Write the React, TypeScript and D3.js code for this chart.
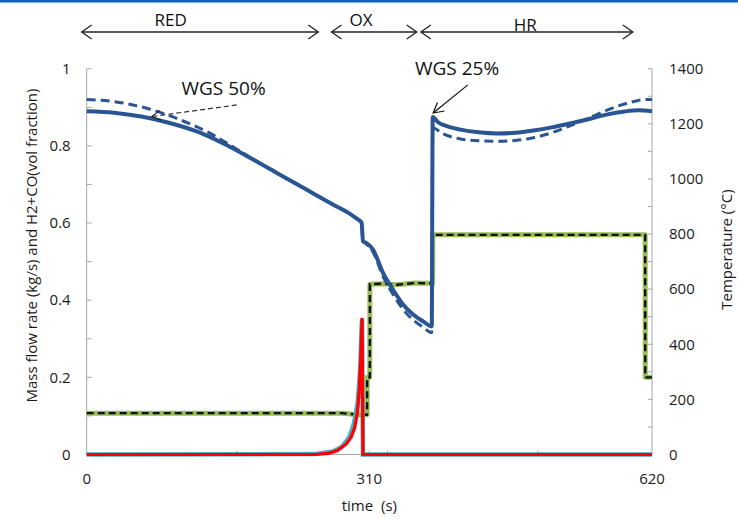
import React from "react";
import * as d3 from "d3";

// ---- data (time in s, flow/fraction on left axis, temperature on right axis) ----
const solidT = [0, 30, 60, 90, 120, 150, 180, 210, 240, 270, 290, 297, 301.5, 303, 307, 314, 325, 336, 347, 358, 369, 378.4, 379.5, 385, 395, 410, 430, 450, 470, 490, 510, 530, 550, 570, 590, 605, 620];
const solidV = [0.890, 0.886, 0.876, 0.860, 0.838, 0.806, 0.768, 0.728, 0.688, 0.648, 0.622, 0.610, 0.601, 0.553, 0.548, 0.531, 0.471, 0.427, 0.389, 0.363, 0.345, 0.332, 0.875, 0.862, 0.851, 0.842, 0.835, 0.832, 0.834, 0.840, 0.848, 0.858, 0.869, 0.881, 0.889, 0.892, 0.890];

const dashT = [0, 29, 65, 102, 138, 160, 180, 210, 240, 270, 290, 297, 301.5, 303, 307, 314, 325, 336, 347, 358, 369, 378.4, 379.5, 390, 410, 430, 450, 470, 490, 510, 530, 548, 565, 585, 600, 612, 620];
const dashV = [0.920, 0.915, 0.898, 0.868, 0.829, 0.798, 0.769, 0.728, 0.688, 0.648, 0.622, 0.610, 0.601, 0.553, 0.545, 0.525, 0.462, 0.415, 0.376, 0.349, 0.330, 0.316, 0.847, 0.832, 0.818, 0.813, 0.812, 0.814, 0.821, 0.834, 0.852, 0.869, 0.887, 0.905, 0.915, 0.920, 0.920];

const redT = [0, 250, 265, 275, 285, 290, 294, 297, 299, 300.5, 301.5, 302, 303, 620];
const redV = [0, 0, 0.003, 0.010, 0.028, 0.045, 0.070, 0.110, 0.170, 0.250, 0.320, 0.354, 0, 0];

const tealT = [0, 250, 270, 280, 288, 293, 297, 300, 301.5, 302, 303, 620];
const tealV = [0, 0.001, 0.008, 0.020, 0.045, 0.080, 0.130, 0.220, 0.330, 0.350, 0, 0];

const tempT = [0, 280, 296, 304, 307.5, 307.6, 310.5, 310.6, 325, 340, 360, 379.5, 379.6, 612.5, 612.6, 620];
const tempV = [150, 150, 145, 144, 144, 280, 280, 618, 620, 616, 622, 621, 797, 797, 280, 280];

const leftTicks = [0, 0.2, 0.4, 0.6, 0.8, 1];
const leftMinor = [0.1, 0.3, 0.5, 0.7, 0.9];
const rightTicks = [0, 200, 400, 600, 800, 1000, 1200, 1400];
const rightMinor = [100, 300, 500, 700, 900, 1100, 1300];
const xLabels = [0, 310, 620];
const xMinor = [165, 330, 495, 310];

const phaseNames = ["RED", "OX", "HR"];
const phaseStart = [-5.5, 268.5, 366.5];
const phaseEnd = [254, 362, 599];
const phaseLabelT = [92, 301, 481];

const W = 738, H = 519;
const L = 86.7, R = 652, T = 68.7, B = 454.5;

const font = "'Open Sans', 'DejaVu Sans', sans-serif";

function chevron(x1: number, y1: number, x2: number, y2: number, len = 10, half = 6) {
  const dx = x2 - x1, dy = y2 - y1;
  const d = Math.hypot(dx, dy);
  const ux = dx / d, uy = dy / d;
  const px = -uy, py = ux;
  const bx = x2 - ux * len, by = y2 - uy * len;
  return `M${bx + px * half},${by + py * half}L${x2},${y2}L${bx - px * half},${by - py * half}`;
}

export default function App() {
  const x = d3.scaleLinear().domain([0, 620]).range([L, R]);
  const yL = d3.scaleLinear().domain([0, 1]).range([B, T]);
  const yR = d3.scaleLinear().domain([0, 1400]).range([B, T]);

  const lineL = (ts: number[], vs: number[], curve: any) =>
    d3.line<number>().x((_, i) => x(ts[i])).y((v) => yL(v)).curve(curve)(vs) || "";
  const lineR = d3.line<number>().x((_, i) => x(tempT[i])).y((v) => yR(v)).curve(d3.curveLinear)(tempV) || "";

  const solidPath = lineL(solidT, solidV, d3.curveMonotoneX);
  const dashPath = lineL(dashT, dashV, d3.curveMonotoneX);
  const redPath = lineL(redT, redV, d3.curveLinear);
  const tealPath = lineL(tealT, tealV, d3.curveLinear);

  const axisCol = "#a6a6a6";
  const blue = "#2a5593";
  const txt = "#1a1a1a";

  // annotation anchors in data units
  const a50 = { tx: 164.5, tv: 0.906, hx: 71.3, hv: 0.876, lx: 104, lv: 0.931 };
  const a25 = { tx: 418, tv: 0.958, hx: 380, hv: 0.885, lx: 360, lv: 0.984 };
  const arrowY = 32;

  return (
    <svg width={W} height={H} style={{ position: "absolute", left: 0, top: 0, background: "#fff" }} fontFamily={font}>
      <rect x={0} y={0} width={W} height={2.5} fill="#0b63c4" />

      {/* axes */}
      <line x1={L} x2={L} y1={T} y2={B} stroke={axisCol} strokeWidth={1} />
      <line x1={R} x2={R} y1={T} y2={B} stroke={axisCol} strokeWidth={1} />
      <line x1={L} x2={R} y1={B} y2={B} stroke={axisCol} strokeWidth={1} />
      {leftTicks.concat(leftMinor).map((v) => (
        <line key={"lt" + v} x1={L} x2={L + 5} y1={yL(v)} y2={yL(v)} stroke={axisCol} />
      ))}
      {rightTicks.concat(rightMinor).map((v) => (
        <line key={"rt" + v} x1={R - 4} x2={R} y1={yR(v)} y2={yR(v)} stroke={axisCol} />
      ))}
      {xMinor.map((v) => (
        <line key={"xt" + v} x1={x(v)} x2={x(v)} y1={B} y2={B - 4} stroke={axisCol} />
      ))}
      {leftTicks.map((v) => (
        <text key={"ll" + v} x={L - 16} y={yL(v)} dy="0.35em" textAnchor="end" fontSize={15} fill={txt}>{String(v)}</text>
      ))}
      {rightTicks.map((v) => (
        <text key={"rl" + v} x={R + 17} y={yR(v)} dy="0.35em" textAnchor="start" fontSize={15} fill={txt}>{String(v)}</text>
      ))}
      {xLabels.map((v) => (
        <text key={"xl" + v} x={x(v)} y={484} textAnchor="middle" fontSize={15} fill={txt}>{String(v)}</text>
      ))}
      <text x={x(310)} y={511} textAnchor="middle" fontSize={15} fill={txt} style={{ whiteSpace: "pre" }}>time  (s)</text>
      <text transform={`translate(37,${(T + B) / 2 - 16}) rotate(-90)`} textAnchor="middle" fontSize={15} fill={txt}>Mass flow rate (kg/s) and H2+CO(vol fraction)</text>
      <text transform={`translate(732,${(T + B) / 2 - 12}) rotate(-90)`} textAnchor="middle" fontSize={15} fill={txt}>Temperature (°C)</text>

      {/* temperature step */}
      <path d={lineR} fill="none" stroke="#9bbb59" strokeWidth={5} strokeLinejoin="round" />
      <path d={lineR} fill="none" stroke="#111" strokeWidth={2.4} strokeDasharray="7,4" />

      {/* blue lines */}
      <path d={dashPath} fill="none" stroke={blue} strokeWidth={3} strokeDasharray="9,5" />
      <path d={solidPath} fill="none" stroke={blue} strokeWidth={4} strokeLinejoin="round" />

      {/* teal + red */}
      <path d={tealPath} fill="none" stroke="#4bacc6" strokeWidth={4.5} />
      <path d={redPath} fill="none" stroke="#ff0000" strokeWidth={3.2} />

      {/* annotations */}
      <line x1={x(a50.tx)} y1={yL(a50.tv)} x2={x(a50.hx)} y2={yL(a50.hv)} stroke="#333" strokeWidth={1.2} strokeDasharray="5,3" />
      <path d={chevron(x(a50.tx), yL(a50.tv), x(a50.hx), yL(a50.hv), 9, 5)} fill="none" stroke="#222" strokeWidth={1.2} />
      <text x={x(a50.lx)} y={yL(a50.lv)} fontSize={19} fill="#111">WGS 50%</text>

      <line x1={x(a25.tx)} y1={yL(a25.tv)} x2={x(a25.hx)} y2={yL(a25.hv)} stroke="#111" strokeWidth={1.2} />
      <path d={chevron(x(a25.tx), yL(a25.tv), x(a25.hx), yL(a25.hv), 10, 5.5)} fill="none" stroke="#111" strokeWidth={1.2} />
      <text x={x(a25.lx)} y={yL(a25.lv)} fontSize={19} fill="#111">WGS 25%</text>

      {/* phase arrows */}
      {phaseNames.map((n, i) => {
        const x1 = x(phaseStart[i]), x2 = x(phaseEnd[i]);
        return (
          <g key={n}>
            <line x1={x1} x2={x2} y1={arrowY} y2={arrowY} stroke="#222" strokeWidth={1.3} />
            <path d={chevron(x1 + 20, arrowY, x1, arrowY, 10, 7)} fill="none" stroke="#222" strokeWidth={1.3} />
            <path d={chevron(x2 - 20, arrowY, x2, arrowY, 10, 7)} fill="none" stroke="#222" strokeWidth={1.3} />
            <text x={x(phaseLabelT[i])} y={i === 2 ? 31 : 26} textAnchor="middle" fontSize={17} fill="#111">{n}</text>
          </g>
        );
      })}
    </svg>
  );
}
